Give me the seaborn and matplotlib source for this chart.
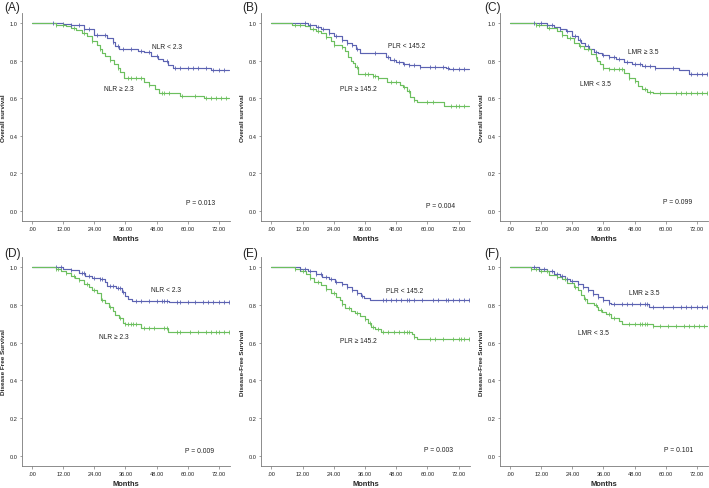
import numpy as np
import pandas as pd
import seaborn as sns
import matplotlib
matplotlib.use('Agg')
import matplotlib.pyplot as plt

# =============================================================================
# Kaplan-Meier step points (months, survival) and censor times
END_T = 76

# (A) overall survival, NLR
os_nlr_lo_t = [0, 12, 15, 20, 24, 29, 31, 32, 33.6, 41, 43, 46, 48.7, 50.6, 52.5, 54.5, 69]
os_nlr_lo_s = [1.0, 0.995, 0.99, 0.968, 0.934, 0.92, 0.90, 0.88, 0.863, 0.853, 0.843, 0.824, 0.81, 0.80, 0.777, 0.763, 0.75]
os_nlr_lo_c = [8, 12, 15, 18, 20, 22, 25, 28, 31, 33, 35, 38, 42, 45, 48, 52, 55, 57, 60, 62, 64, 67, 70, 72, 74]
os_nlr_hi_t = [0, 9, 13, 15, 17, 19, 21, 23, 25, 26, 27, 28, 30, 31.5, 33, 34, 35.5, 43, 45, 47.5, 49, 57, 66.5]
os_nlr_hi_s = [1.0, 0.99, 0.985, 0.973, 0.96, 0.947, 0.929, 0.906, 0.884, 0.862, 0.84, 0.822, 0.804, 0.783, 0.76, 0.74, 0.709, 0.688, 0.67, 0.649, 0.629, 0.613, 0.599]
os_nlr_hi_c = [9, 12, 16, 20, 23, 26, 30, 33, 37, 38, 40, 42, 45, 50, 51, 53, 58, 63, 67, 69, 71, 73, 75]

# (B) overall survival, PLR
os_plr_lo_t = [0, 14, 17, 19, 22, 24, 27, 29, 31, 32.5, 34, 44, 45.5, 48, 50.5, 53, 57, 67, 68.5]
os_plr_lo_s = [1.0, 0.991, 0.98, 0.97, 0.947, 0.93, 0.908, 0.895, 0.882, 0.861, 0.842, 0.82, 0.803, 0.79, 0.783, 0.775, 0.768, 0.76, 0.755]
os_plr_lo_c = [13, 15, 18, 20, 22, 25, 27, 29, 31, 33, 40, 45, 47, 49, 51, 53, 55, 57, 61, 63, 66, 68, 70, 72, 74]
os_plr_hi_t = [0, 8, 13, 15, 17, 19, 21, 23, 24, 27, 28.5, 29.5, 30.5, 31.5, 32, 33.5, 39, 41, 44.5, 49.5, 50.5, 52, 53.5, 55, 56, 66.5]
os_plr_hi_s = [1.0, 0.99, 0.985, 0.97, 0.957, 0.944, 0.926, 0.905, 0.882, 0.87, 0.85, 0.82, 0.80, 0.785, 0.768, 0.729, 0.718, 0.71, 0.688, 0.672, 0.658, 0.636, 0.604, 0.592, 0.579, 0.556]
os_plr_hi_c = [9, 11, 16, 18, 21, 24, 27, 33, 36, 37, 39, 40, 41, 46, 48, 51, 53, 55, 60, 62, 69, 71, 72, 74]

# (C) overall survival, LMR
os_lmr_hi_t = [0, 14, 17, 19, 21.5, 24, 26, 27.5, 29, 30.5, 32.5, 34, 35.5, 38, 41, 44, 47, 51, 56, 65, 69]
os_lmr_hi_s = [1.0, 0.99, 0.98, 0.97, 0.956, 0.933, 0.912, 0.893, 0.877, 0.859, 0.847, 0.838, 0.83, 0.819, 0.81, 0.793, 0.78, 0.77, 0.759, 0.749, 0.731]
os_lmr_hi_c = [9, 12, 14, 16, 19, 22, 25, 27, 30, 33, 36, 38, 40, 42, 45, 48, 50, 52, 54, 56, 63, 70, 72, 74, 76]
os_lmr_lo_t = [0, 10, 14, 18, 20, 22, 24.5, 26.5, 28.5, 31, 33, 33.5, 34.5, 36, 38, 44, 46, 48, 49.5, 51, 53, 55]
os_lmr_lo_s = [1.0, 0.99, 0.974, 0.956, 0.938, 0.921, 0.895, 0.877, 0.859, 0.836, 0.82, 0.80, 0.78, 0.763, 0.754, 0.733, 0.71, 0.689, 0.666, 0.649, 0.633, 0.626]
os_lmr_lo_c = [10, 11, 15, 20, 23, 27, 30, 33, 36, 38, 40, 42, 43, 46, 48, 52, 54, 58, 64, 66, 68, 70, 72, 74, 76]

# (D) disease free survival, NLR
dfs_nlr_lo_t = [0, 12, 15, 18, 20.5, 23, 26, 28, 29, 32.5, 34.5, 36, 37, 38.5, 53]
dfs_nlr_lo_s = [1.0, 0.99, 0.982, 0.968, 0.952, 0.943, 0.934, 0.92, 0.90, 0.889, 0.866, 0.848, 0.83, 0.821, 0.8125]
dfs_nlr_lo_c = [9, 11, 15, 19, 20, 22, 24, 26, 27, 30, 31, 33, 34, 35, 40, 42, 45, 48, 50, 51, 52, 56, 57, 60, 63, 66, 68, 70, 72, 74, 76]
dfs_nlr_hi_t = [0, 9, 11, 13, 15, 16.5, 18, 20, 22, 23, 25, 26.5, 28, 29.5, 31, 32, 33.5, 35, 36, 42, 52.5]
dfs_nlr_hi_s = [1.0, 0.991, 0.98, 0.97, 0.95, 0.94, 0.929, 0.91, 0.893, 0.877, 0.86, 0.825, 0.807, 0.788, 0.768, 0.746, 0.729, 0.705, 0.70, 0.675, 0.657]
dfs_nlr_hi_c = [9, 10, 13, 16, 18, 21, 24, 27, 30, 34, 36, 37, 38, 39, 40, 43, 45, 47, 51, 52, 56, 57, 61, 64, 67, 69, 71, 72, 74, 76]

# (E) disease free survival, PLR
dfs_plr_lo_t = [0, 11, 14, 17, 19.5, 22, 24.5, 27, 29, 31, 33, 34.5, 35.5, 38]
dfs_plr_lo_s = [1.0, 0.99, 0.979, 0.965, 0.949, 0.935, 0.921, 0.912, 0.894, 0.878, 0.861, 0.847, 0.834, 0.825]
dfs_plr_lo_c = [11, 13, 15, 17, 19, 21, 23, 25, 27, 29, 31, 33, 35, 43, 44, 46, 48, 50, 52, 53, 55, 58, 62, 64, 67, 68, 70, 72, 74, 76]
dfs_plr_hi_t = [0, 9, 11, 13.5, 15, 16.5, 19, 21, 23, 25, 26.5, 27, 28.5, 30.5, 32, 34, 36, 37, 38.5, 40, 42, 54, 55, 56]
dfs_plr_hi_s = [1.0, 0.99, 0.979, 0.961, 0.94, 0.922, 0.903, 0.882, 0.864, 0.843, 0.825, 0.802, 0.781, 0.767, 0.755, 0.741, 0.723, 0.702, 0.684, 0.674, 0.658, 0.644, 0.63, 0.618]
dfs_plr_hi_c = [9, 12, 15, 18, 21, 24, 27, 30, 33, 36, 38, 39, 41, 43, 45, 47, 49, 51, 52, 53, 55, 61, 63, 66, 70, 72, 73, 74, 76]

# (F) disease free survival, LMR
dfs_lmr_hi_t = [0, 11, 14, 17, 19, 21, 23, 26, 28, 30, 32, 34, 36, 38, 39, 53.5]
dfs_lmr_hi_s = [1.0, 0.99, 0.979, 0.965, 0.952, 0.938, 0.924, 0.91, 0.894, 0.876, 0.858, 0.841, 0.827, 0.81, 0.802, 0.791]
dfs_lmr_hi_c = [9, 11, 13, 16, 18, 20, 22, 24, 26, 28, 30, 32, 34, 36, 38, 40, 43, 45, 47, 50, 52, 53, 55, 59, 63, 66, 68, 70, 72, 74, 76]
dfs_lmr_lo_t = [0, 8, 11, 15, 18, 20, 22, 24.5, 26, 27.5, 28.5, 29.5, 32.5, 33.5, 34, 35.5, 37, 39, 42, 43, 55]
dfs_lmr_lo_s = [1.0, 0.99, 0.98, 0.959, 0.947, 0.934, 0.915, 0.892, 0.876, 0.853, 0.832, 0.81, 0.80, 0.788, 0.775, 0.761, 0.749, 0.731, 0.715, 0.699, 0.687]
dfs_lmr_lo_c = [8, 10, 12, 14, 18, 21, 25, 29, 33, 35, 38, 40, 46, 48, 50, 51, 52, 53, 55, 58, 61, 64, 67, 69, 71, 73, 75]

panel_tags = ['(A)', '(B)', '(C)', '(D)', '(E)', '(F)']
y_titles = ['Overall survival', 'Overall survival', 'Overall survival',
            'Disease Free Survival', 'Disease-Free Survival', 'Disease-Free Survival']
blue_names = ['NLR < 2.3', 'PLR < 145.2', 'LMR \u2265 3.5', 'NLR < 2.3', 'PLR < 145.2', 'LMR \u2265 3.5']
green_names = ['NLR \u2265 2.3', 'PLR \u2265 145.2', 'LMR < 3.5', 'NLR \u2265 2.3', 'PLR \u2265 145.2', 'LMR < 3.5']
p_values = ['P = 0.013', 'P = 0.004', 'P = 0.099', 'P = 0.009', 'P = 0.003', 'P = 0.101']
x_ticks = [0, 12, 24, 36, 48, 60, 72]
x_ticklabels = ['.00', '12.00', '24.00', '36.00', '48.00', '60.00', '72.00']
y_ticks = [0.0, 0.2, 0.4, 0.6, 0.8, 1.0]

curves_blue = [(os_nlr_lo_t, os_nlr_lo_s, os_nlr_lo_c), (os_plr_lo_t, os_plr_lo_s, os_plr_lo_c),
               (os_lmr_hi_t, os_lmr_hi_s, os_lmr_hi_c), (dfs_nlr_lo_t, dfs_nlr_lo_s, dfs_nlr_lo_c),
               (dfs_plr_lo_t, dfs_plr_lo_s, dfs_plr_lo_c), (dfs_lmr_hi_t, dfs_lmr_hi_s, dfs_lmr_hi_c)]
curves_green = [(os_nlr_hi_t, os_nlr_hi_s, os_nlr_hi_c), (os_plr_hi_t, os_plr_hi_s, os_plr_hi_c),
                (os_lmr_lo_t, os_lmr_lo_s, os_lmr_lo_c), (dfs_nlr_hi_t, dfs_nlr_hi_s, dfs_nlr_hi_c),
                (dfs_plr_hi_t, dfs_plr_hi_s, dfs_plr_hi_c), (dfs_lmr_lo_t, dfs_lmr_lo_s, dfs_lmr_lo_c)]

# label positions (data coords) for group names and p values
blue_pos = [(52, 0.875), (51.9, 0.879), (51.2, 0.85), (51.6, 0.879), (51.2, 0.878), (51.8, 0.867)]
green_pos = [(33.6, 0.652), (33.4, 0.65), (33, 0.68), (31.3, 0.634), (33.4, 0.612), (32, 0.655)]
p_pos = [(65, 0.043), (64.9, 0.028), (64.6, 0.05), (64.5, 0.03), (64.4, 0.032), (65.2, 0.032)]

BLUE = '#5c63b2'
GREEN = '#6cbf5e'
AX_GRAY = '#7a7a7a'

# =============================================================================
sns.set_style('white')
plt.rcParams['font.family'] = ['Liberation Sans', 'DejaVu Sans']

W, H = 709, 489
fig = plt.figure(figsize=(W / 100, H / 100), dpi=100)

# axes boxes in pixels: (left, right, top, bottom)
col_px = [(22, 230), (261, 470), (500, 708)]
row_px = [(14, 222), (258, 467)]


def draw_km(ax, t, s, cens, color):
    t_full = list(t) + [END_T]
    s_full = list(s) + [s[-1]]
    df = pd.DataFrame({'Months': t_full, 'Survival': s_full})
    sns.lineplot(data=df, x='Months', y='Survival', drawstyle='steps-post',
                 estimator=None, sort=False, color=color, lw=0.85, ax=ax)
    idx = np.searchsorted(np.array(t), np.array(cens), side='right') - 1
    df_c = pd.DataFrame({'Months': cens, 'Survival': np.array(s)[idx]})
    sns.scatterplot(data=df_c, x='Months', y='Survival', marker='|', s=10,
                    color=color, linewidth=0.6, ax=ax, zorder=3)


for i in range(6):
    r, c = divmod(i, 3)
    l, rr = col_px[c]
    top, bot = row_px[r]
    ax = fig.add_axes([l / W, (H - bot) / H, (rr - l) / W, (bot - top) / H])

    draw_km(ax, *curves_blue[i], BLUE)
    draw_km(ax, *curves_green[i], GREEN)

    ax.set_xlim(-4, 76.4)
    ax.set_ylim(-0.053, 1.053)
    ax.set_xticks(x_ticks)
    ax.set_xticklabels(x_ticklabels)
    ax.set_yticks(y_ticks)
    ax.set_yticklabels(['%.1f' % v for v in y_ticks])
    ax.tick_params(direction='out', length=1.8, width=0.5, color=AX_GRAY,
                   labelsize=4.1, pad=1.5, labelcolor='#222222', bottom=True, left=True)
    sns.despine(ax=ax)
    for sp in ['left', 'bottom']:
        ax.spines[sp].set_color(AX_GRAY)
        ax.spines[sp].set_linewidth(0.6)

    ax.set_xlabel('Months', fontsize=5.4, fontweight='bold', labelpad=3)
    ax.set_ylabel(y_titles[i], fontsize=4.6, fontweight='bold', labelpad=2.5)

    ax.text(*blue_pos[i], blue_names[i], fontsize=4.8, ha='center', va='center', color='#222222')
    ax.text(*green_pos[i], green_names[i], fontsize=4.8, ha='center', va='center', color='#222222')
    ax.text(*p_pos[i], p_values[i], fontsize=4.9, ha='center', va='center', color='#222222')

    tag_x = [4, 242, 484][c]
    tag_y = [2, 248][r]
    fig.text(tag_x / W, 1 - tag_y / H, panel_tags[i], fontsize=8.6, ha='left', va='top')

plt.savefig('out.png', dpi=100)
